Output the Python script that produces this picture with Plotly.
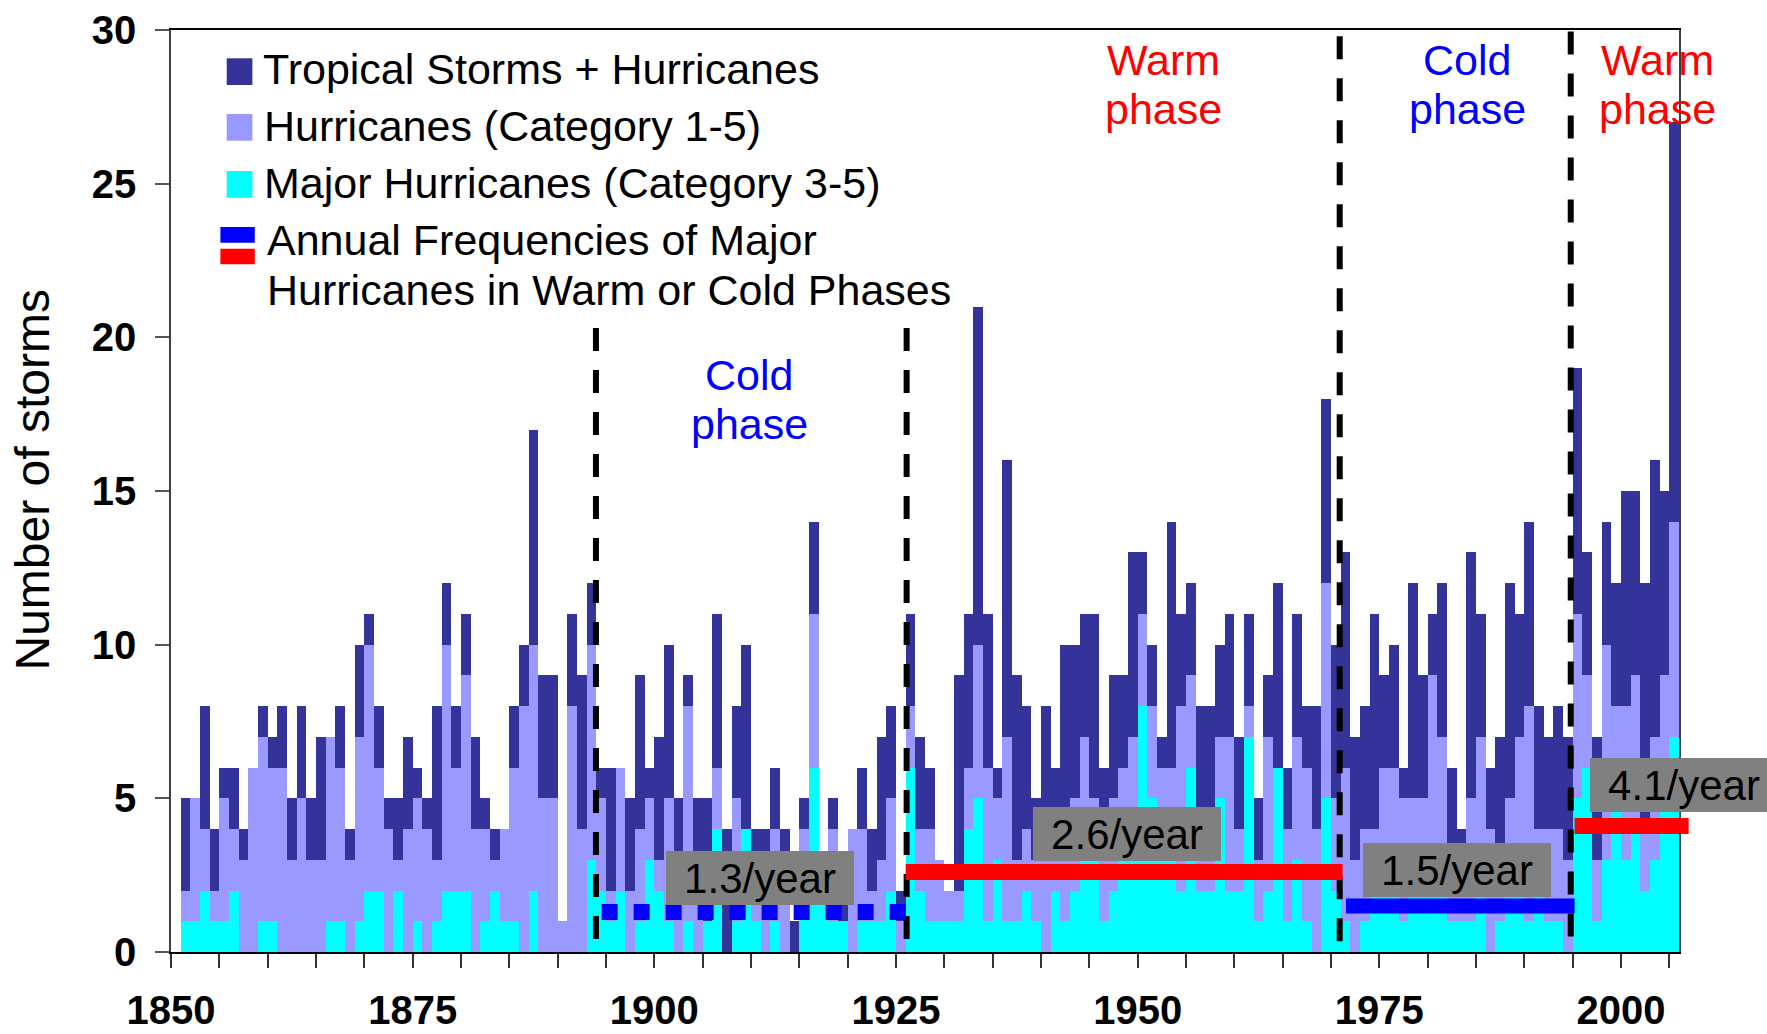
import plotly.graph_objects as go

# ---------------------------------------------------------------------------
# Atlantic named storms per season, 1851-2005
# ---------------------------------------------------------------------------
years = list(range(1851, 2006))

total_storms = [
    5, 5, 8, 4, 6, 6, 4, 6, 8, 7,          # 1851-1860
    8, 5, 8, 5, 7, 7, 8, 4, 10, 11,        # 1861-1870
    8, 5, 5, 7, 6, 5, 8, 12, 8, 11,        # 1871-1880
    7, 5, 4, 4, 8, 10, 17, 9, 9, 1,        # 1881-1890
    11, 9, 12, 6, 6, 6, 5, 9, 6, 7,        # 1891-1900
    10, 5, 9, 5, 5, 11, 4, 8, 10, 4,       # 1901-1910
    4, 6, 4, 1, 5, 14, 3, 5, 3, 4,         # 1911-1920
    6, 4, 7, 8, 2, 11, 7, 6, 3, 2,         # 1921-1930
    9, 11, 21, 11, 6, 16, 9, 8, 5, 8,      # 1931-1940
    6, 10, 10, 11, 11, 6, 9, 9, 13, 13,    # 1941-1950
    10, 7, 14, 11, 12, 8, 8, 10, 11, 7,    # 1951-1960
    11, 5, 9, 12, 6, 11, 8, 8, 18, 10,     # 1961-1970
    13, 7, 8, 11, 9, 10, 6, 12, 9, 11,     # 1971-1980
    12, 6, 4, 13, 11, 6, 7, 12, 11, 14,    # 1981-1990
    8, 7, 8, 7, 19, 13, 7, 14, 12, 15,     # 1991-2000
    15, 12, 16, 15, 27,                    # 2001-2005
]

hurricanes = [
    2, 5, 4, 2, 5, 4, 3, 6, 7, 6,
    6, 3, 5, 3, 3, 7, 6, 3, 7, 10,
    6, 4, 3, 4, 5, 4, 3, 10, 6, 9,
    4, 4, 3, 4, 6, 8, 10, 5, 5, 1,
    8, 4, 10, 5, 2, 6, 2, 4, 5, 3,
    5, 3, 8, 3, 1, 6, 0, 5, 4, 3,
    3, 4, 3, 0, 4, 11, 2, 4, 1, 4,
    4, 2, 3, 5, 1, 8, 4, 4, 3, 2,
    2, 6, 10, 6, 5, 7, 3, 4, 3, 3,
    4, 4, 5, 7, 5, 3, 5, 6, 7, 11,
    8, 6, 6, 8, 9, 4, 3, 7, 7, 4,
    8, 3, 7, 6, 4, 7, 6, 4, 12, 5,
    6, 3, 4, 4, 6, 6, 5, 5, 5, 9,
    7, 2, 3, 5, 7, 4, 3, 5, 7, 8,
    4, 4, 4, 3, 11, 9, 3, 10, 8, 8,
    9, 4, 7, 9, 14,
]

major_hurricanes = [
    1, 1, 2, 1, 1, 2, 0, 0, 1, 1,
    0, 0, 0, 0, 0, 1, 1, 0, 1, 2,
    2, 0, 2, 0, 1, 0, 1, 2, 2, 2,
    0, 1, 2, 1, 1, 0, 2, 0, 0, 0,
    0, 0, 3, 2, 1, 2, 0, 1, 3, 2,
    1, 0, 1, 0, 1, 4, 0, 1, 4, 1,
    0, 1, 0, 0, 3, 6, 2, 1, 1, 0,
    1, 1, 1, 2, 0, 6, 2, 1, 1, 1,
    1, 4, 5, 1, 3, 1, 1, 2, 1, 0,
    2, 1, 2, 3, 3, 1, 2, 3, 3, 8,
    5, 3, 3, 2, 6, 2, 2, 5, 2, 2,
    7, 1, 2, 6, 1, 3, 1, 0, 5, 2,
    1, 0, 1, 2, 3, 2, 1, 2, 2, 2,
    3, 1, 1, 1, 3, 0, 1, 3, 2, 1,
    2, 1, 1, 0, 5, 6, 1, 3, 5, 3,
    4, 2, 3, 6, 7,
]

# Multidecadal phases: (start, end, mean major hurricanes per year, kind)
phase_start = [1894.55, 1926.0, 1971.55, 1995.2]
phase_end = [1926.0, 1971.2, 1995.2, 2007.0]
phase_rate = [1.3, 2.6, 1.5, 4.1]
phase_kind = ["cold", "warm", "cold", "warm"]
phase_label = ["1.3/year", "2.6/year", "1.5/year", "4.1/year"]

# Boundaries between phases (dashed verticals) and their upper ends
boundary_year = [1893.96, 1926.1, 1970.9, 1994.8]
boundary_top = [20.3, 20.3, 29.8, 29.95]

x_ticks = [1850, 1875, 1900, 1925, 1950, 1975, 2000]

# ---------------------------------------------------------------------------
W, H = 1767, 1034
ML, MR, MT, MB = 171, 88, 30, 82
PW = W - ML - MR
PH = H - MT - MB

FONT = "Liberation Sans, Arial, Helvetica, sans-serif"
C_TOTAL = "#333399"
C_HURR = "#9999FF"
C_MAJOR = "#00FFFF"
C_WARM = "#FF0000"
C_COLD = "#0000FF"
TXT = 43


def paper_x(p):
    return (p - ML) / PW


def paper_y(p):
    return (H - MB - p) / PH


def year_to_px(y):
    return ML + (y - 1850) * PW / (2006 - 1850)


fig = go.Figure()

centres = [y + 0.5 for y in years]
for vals, col, nm in [
    (total_storms, C_TOTAL, "Tropical Storms + Hurricanes"),
    (hurricanes, C_HURR, "Hurricanes (Category 1-5)"),
    (major_hurricanes, C_MAJOR, "Major Hurricanes (Category 3-5)"),
]:
    fig.add_bar(
        x=centres, y=vals, width=1, name=nm,
        marker=dict(color=col, line=dict(width=0)),
        showlegend=False, hoverinfo="x+y",
    )

shapes = []
annotations = []

# dashed phase boundaries
for bx, top in zip(boundary_year, boundary_top):
    shapes.append(dict(
        type="line", xref="x", yref="y", x0=bx, x1=bx, y0=top, y1=0.3,
        line=dict(color="black", width=6, dash="23px,19px"), layer="above",
    ))

# phase mean lines
for xs, xe, rate, kind in zip(phase_start, phase_end, phase_rate, phase_kind):
    col = C_WARM if kind == "warm" else C_COLD
    dotted = kind == "cold" and xs < 1900
    shapes.append(dict(
        type="line", xref="paper", yref="paper",
        x0=paper_x(year_to_px(xs)), x1=paper_x(year_to_px(xe)),
        y0=rate / 30, y1=rate / 30,
        line=dict(color=col, width=16 if (kind == "warm" or dotted) else 15,
                  dash="16px,16px" if dotted else "solid"),
        layer="above",
    ))

# grey rate boxes
box_centres = [(760, 878), (1127, 834), (1457, 870), (1684, 785)]
for (cx, cy), txt in zip(box_centres, phase_label):
    annotations.append(dict(
        xref="paper", yref="paper", x=paper_x(cx), y=paper_y(cy),
        xanchor="center", yanchor="middle", text=txt, showarrow=False,
        width=188, height=54, bgcolor="#808080", borderpad=0, borderwidth=0,
        font=dict(family=FONT, size=42, color="black"),
    ))

# phase names
LS = 0.3465 * TXT
phase_titles = [
    (749, 390, 439, "Cold", "phase", C_COLD),
    (1163.5, 75, 124, "Warm", "phase", C_WARM),
    (1467, 75, 124, "Cold", "phase", C_COLD),
    (1657, 75, 124, "Warm", "phase", C_WARM),
]
for cx, b1, b2, t1, t2, col in phase_titles:
    for base, t in ((b1, t1), (b2, t2)):
        annotations.append(dict(
            xref="paper", yref="paper", x=paper_x(cx), y=paper_y(base - LS),
            xanchor="center", yanchor="middle", text=t, showarrow=False,
            borderpad=0, borderwidth=0,
            font=dict(family=FONT, size=TXT, color=col),
        ))


# legend keys
def rect(x0, x1, y0, y1, col):
    shapes.append(dict(
        type="rect", xref="paper", yref="paper",
        x0=paper_x(x0), x1=paper_x(x1), y0=paper_y(y1), y1=paper_y(y0),
        fillcolor=col, line=dict(width=0), layer="above",
    ))


rect(226.7, 252.4, 58.3, 85, C_TOTAL)
rect(226.7, 252.4, 114, 140.7, C_HURR)
rect(226.7, 252.4, 171, 197.7, C_MAJOR)
rect(220.4, 254.8, 227, 242.7, C_COLD)
rect(220.4, 254.8, 248.7, 264.3, C_WARM)

legend_lines = [
    (263, 84, "Tropical Storms + Hurricanes"),
    (264, 140.7, "Hurricanes (Category 1-5)"),
    (264, 197.7, "Major Hurricanes (Category 3-5)"),
    (267, 255, "Annual Frequencies of Major"),
    (267, 305, "Hurricanes in Warm or Cold Phases"),
]
for lx, base, t in legend_lines:
    annotations.append(dict(
        xref="paper", yref="paper", x=paper_x(lx), y=paper_y(base - LS),
        xanchor="left", yanchor="middle", text=t, showarrow=False,
        borderpad=0, borderwidth=0,
        font=dict(family=FONT, size=TXT, color="black"),
    ))

# y-axis title
annotations.append(dict(
    xref="paper", yref="paper", x=paper_x(31.5), y=paper_y(480),
    xanchor="center", yanchor="middle", text="Number of storms",
    textangle=-90, showarrow=False, borderpad=0, borderwidth=0,
    font=dict(family=FONT, size=48, color="black"),
))

fig.update_layout(
    width=W, height=H,
    margin=dict(l=ML, r=MR, t=MT, b=MB, pad=0, autoexpand=False),
    paper_bgcolor="white", plot_bgcolor="white",
    barmode="overlay", bargap=0,
    showlegend=False,
    font=dict(family=FONT, color="black"),
    shapes=shapes, annotations=annotations,
    xaxis=dict(
        range=[1850, 2006], tickmode="array", tickvals=x_ticks,
        ticktext=[str(t) for t in x_ticks],
        ticks="outside", ticklen=14, tickwidth=1.5, tickcolor="#333333",
        minor=dict(dtick=5, tick0=1850, ticks="outside", ticklen=14,
                   tickwidth=1.5, tickcolor="#333333", showgrid=False),
        showline=True, linecolor="black", linewidth=1.5, mirror=True,
        showgrid=False, zeroline=False, automargin=False,
        tickfont=dict(family=FONT, size=40, color="black", weight="bold"),
        ticklabelstandoff=8,
    ),
    yaxis=dict(
        range=[0, 30], tickmode="linear", tick0=0, dtick=5,
        ticks="outside", ticklen=14, tickwidth=1.5, tickcolor="#555555",
        showline=True, linecolor="#404040", linewidth=1.5, mirror=True,
        showgrid=False, zeroline=False, automargin=False,
        tickfont=dict(family=FONT, size=40, color="black", weight="bold"),
        ticklabelstandoff=11,
    ),
)

fig.write_html("out.html", config={"displayModeBar": False})
